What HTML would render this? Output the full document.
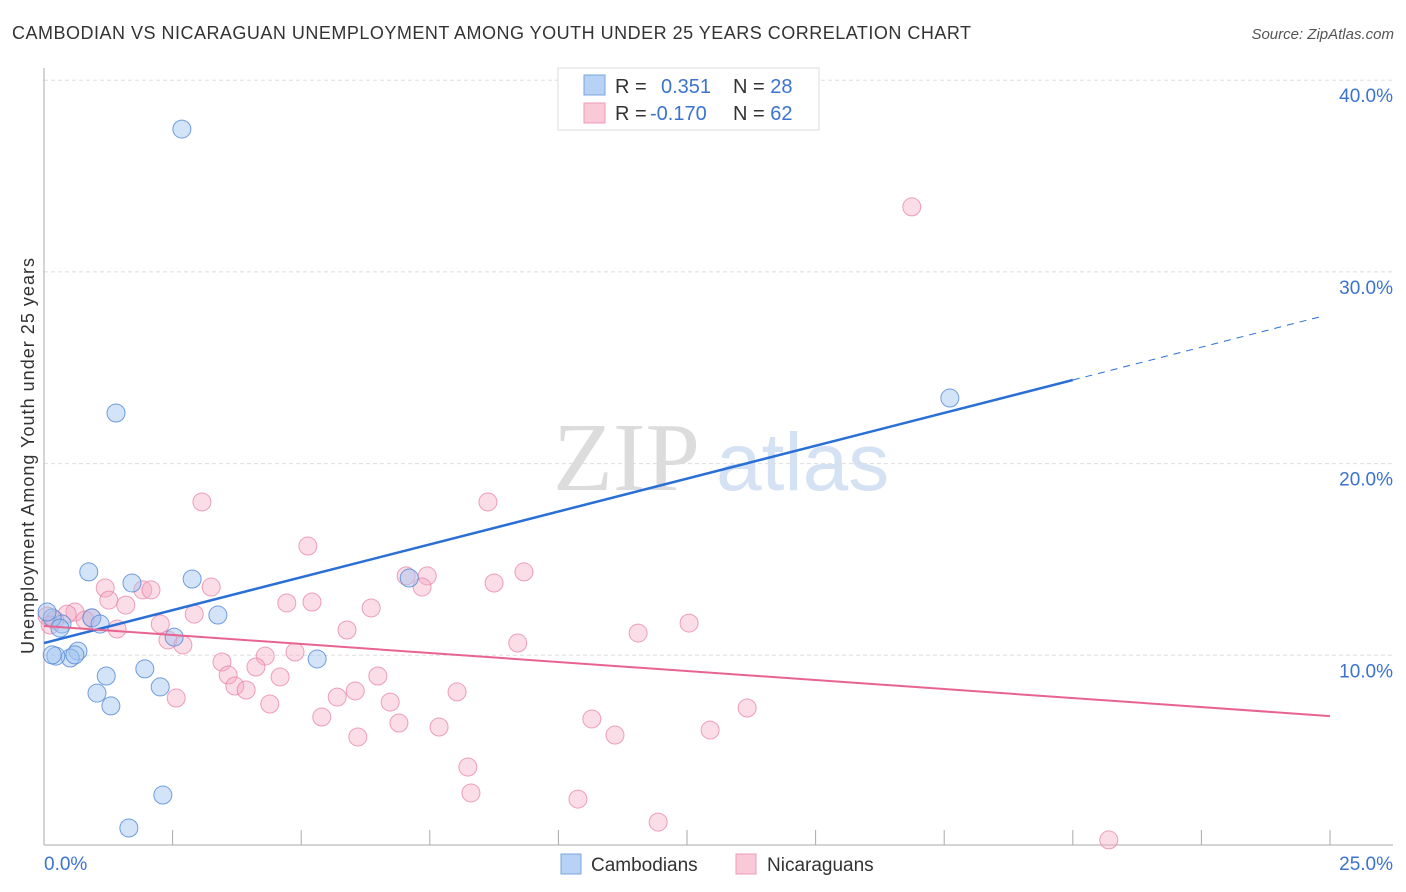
<!DOCTYPE html>
<html><head><meta charset="utf-8"><style>
body{margin:0;background:#fff;font-family:"Liberation Sans",sans-serif;}
svg{display:block}
</style></head><body>
<svg id="chart" width="1406" height="892" xmlns="http://www.w3.org/2000/svg">
<text x="12" y="39" font-size="18" fill="#333" textLength="959" lengthAdjust="spacing">CAMBODIAN VS NICARAGUAN UNEMPLOYMENT AMONG YOUTH UNDER 25 YEARS CORRELATION CHART</text>
<text x="1394" y="39" font-size="15" fill="#555" font-style="italic" text-anchor="end">Source: ZipAtlas.com</text>
<g>
<text x="553" y="490" font-family="Liberation Serif,serif" font-size="98" fill="#dcdcdc">ZIP</text>
<text x="716" y="490" font-size="82" fill="#d4e2f4">atlas</text>
</g>
<g id="grid"></g>
<g id="axes"></g>
<g id="marks"></g>
<g id="trends"></g>
<text transform="translate(34,456) rotate(-90)" font-size="18" fill="#333" text-anchor="middle" textLength="396" lengthAdjust="spacing">Unemployment Among Youth under 25 years</text>
<g>
<rect x="558" y="68" width="261" height="62" fill="#fff" stroke="#ddd"/>
<rect x="584" y="75" width="21" height="20" fill="#b7d2f5" stroke="#7aa7e0"/>
<rect x="584" y="103" width="21" height="20" fill="#f9c9d7" stroke="#ee9ab5"/>
<text x="615" y="93" font-size="20" fill="#333">R = <tspan fill="#3b73d0" x="661">0.351</tspan><tspan x="733" fill="#333">N = </tspan><tspan fill="#3b73d0">28</tspan></text>
<text x="615" y="120" font-size="20" fill="#333">R = <tspan fill="#3b73d0" x="650">-0.170</tspan><tspan x="733" fill="#333">N = </tspan><tspan fill="#3b73d0">62</tspan></text>
</g>
<g>
<rect x="561" y="854" width="20" height="20" fill="#b7d2f5" stroke="#7aa7e0"/>
<text x="591" y="871" font-size="19" fill="#333">Cambodians</text>
<rect x="736" y="854" width="20" height="20" fill="#f9c9d7" stroke="#ee9ab5"/>
<text x="767" y="871" font-size="19" fill="#333">Nicaraguans</text>
</g>
</svg>
<script>
const yTicks=[10,20,30,40];
const yTickLabels=["10.0%","20.0%","30.0%","40.0%"];
const xTickCount=10;
const xAxisLabels=["0.0%","25.0%"];
const camX=[2.68,1.40,17.61,0.87,1.71,2.88,7.10,3.38,0.93,1.09,0.35,0.16,2.53,0.66,0.51,0.23,5.31,1.96,1.21,2.26,1.03,1.30,2.31,1.65,0.06,0.31,0.16,0.60];
const camY=[37.45,22.64,23.42,14.35,13.77,13.98,14.03,12.10,11.95,11.63,11.63,11.95,10.95,10.22,9.86,9.96,9.81,9.29,8.92,8.35,8.03,7.36,2.71,0.99,12.26,11.42,10.02,10.02];
const nicX=[16.87,3.07,8.63,5.13,1.19,1.92,2.08,3.25,1.26,1.59,4.72,5.21,6.36,7.04,7.45,7.35,8.75,9.33,0.60,0.45,0.93,1.42,2.26,2.92,2.41,2.70,4.30,4.88,5.89,9.21,11.55,12.54,3.46,4.12,3.58,3.71,3.93,4.59,4.39,2.57,5.40,5.70,6.05,6.49,6.73,6.90,6.10,7.68,8.03,8.24,8.30,10.65,11.10,12.95,13.67,10.38,11.94,20.70,0.06,0.21,0.12,0.80];
const nicY=[33.39,18.00,18.00,15.70,13.51,13.41,13.41,13.56,12.88,12.62,12.73,12.78,12.47,14.14,14.14,13.56,13.77,14.35,12.26,12.15,11.95,11.37,11.63,12.15,10.80,10.54,9.96,10.17,11.32,10.64,11.16,11.68,9.65,9.39,8.97,8.40,8.19,8.87,7.46,7.77,6.78,7.82,8.14,8.92,7.56,6.47,5.74,6.26,8.09,4.17,2.82,6.68,5.84,6.10,7.25,2.50,1.30,0.37,12.05,11.84,11.58,11.84];
const camTrend=[10.64,27.79];
const nicTrend=[11.53,6.83];
const NS="http://www.w3.org/2000/svg";
const X=v=>44+v*51.44, Y=v=>847-v*19.17;
function mk(tag,attrs,parent){const e=document.createElementNS(NS,tag);for(const k in attrs)e.setAttribute(k,attrs[k]);document.getElementById(parent).appendChild(e);return e;}
yTicks.forEach((t,i)=>{
 const l=mk('line',{x1:44,x2:1393,y1:Y(t),y2:Y(t),stroke:'#ddd','stroke-dasharray':'4,3'},'grid');
 
 
 const tx=mk('text',{x:1393,y:Y(t)+22,'font-size':19,fill:'#3b73d0','text-anchor':'end'},'grid');
 tx.textContent=yTickLabels[i];
 
 
});
const yax=mk('line',{x1:44,x2:44,y1:68,y2:845,stroke:'#aaa'},'axes');


const xax=mk('line',{x1:44,x2:1393,y1:845,y2:845,stroke:'#aaa'},'axes');


for(let i=1;i<=xTickCount;i++){
 const tk=mk('line',{x1:X(i*2.5),x2:X(i*2.5),y1:830,y2:845,stroke:'#aaa'},'axes');
 
 
}
const xl0=mk('text',{x:44,y:870,'font-size':19,fill:'#3b73d0'},'axes');xl0.textContent=xAxisLabels[0];


const xl1=mk('text',{x:1393,y:870,'font-size':19,fill:'#3b73d0','text-anchor':'end'},'axes');xl1.textContent=xAxisLabels[1];


nicX.forEach((v,i)=>{
 const c=mk('circle',{cx:X(v),cy:Y(nicY[i]),r:9,fill:'rgba(246,170,195,0.4)',stroke:'rgba(232,130,165,0.75)','stroke-width':1},'marks');
 
 
});
camX.forEach((v,i)=>{
 const c=mk('circle',{cx:X(v),cy:Y(camY[i]),r:9,fill:'rgba(160,195,240,0.45)',stroke:'rgba(80,135,215,0.8)','stroke-width':1},'marks');
 
 
});
const ySolidEnd=camTrend[0]+(camTrend[1]-camTrend[0])*0.8;
const bt=mk('line',{x1:X(0),y1:Y(camTrend[0]),x2:X(20),y2:Y(ySolidEnd),stroke:'#2a6fd6','stroke-width':2.5},'trends');


const bd=mk('line',{x1:X(20),y1:Y(ySolidEnd),x2:X(24.8),y2:Y(camTrend[0]+(camTrend[1]-camTrend[0])*24.8/25),stroke:'#2a6fd6','stroke-width':1,'stroke-dasharray':'7,6'},'trends');


const pt=mk('line',{x1:X(0),y1:Y(nicTrend[0]),x2:X(25),y2:Y(nicTrend[1]),stroke:'#e8648e','stroke-width':2},'trends');


</script>
</body></html>
